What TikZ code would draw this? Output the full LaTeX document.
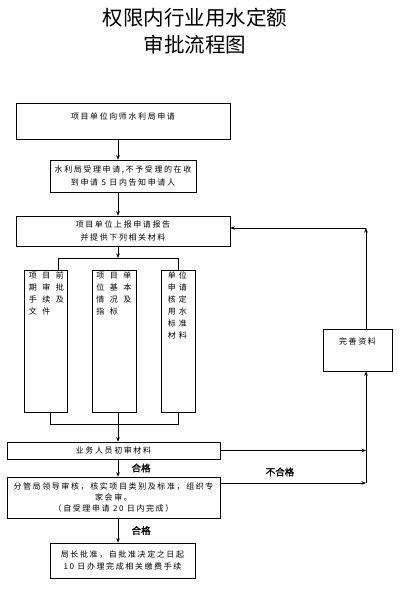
\documentclass[tikz,border=0pt]{standalone}
\usepackage{fontspec}
\setmainfont{Noto Sans CJK SC}
\newfontfamily\cjkbody[LetterSpace=20]{Noto Sans CJK SC}
\newfontfamily\cjkgrid[LetterSpace=69]{Noto Sans CJK SC}
\newfontfamily\cjknarrow[LetterSpace=37]{Noto Sans CJK SC}
\newfontfamily\cjkbold[FakeBold=1.5]{Noto Sans CJK SC}
\usetikzlibrary{positioning, arrows.meta}

\begin{document}
\begin{tikzpicture}[
    x=1pt, y=-1pt,
    box/.style={draw, line width=0.6pt, inner sep=0pt, align=center, font=\cjkbody\fontsize{8}{12.5}\selectfont},
    doc/.style={draw, line width=0.6pt, minimum height=142pt, inner sep=0pt},
    doctxt/.style={inner sep=0pt, align=left, anchor=north west},
    arrow/.style={-{Stealth[length=4.5pt, width=3.5pt]}, line width=0.6pt},
    wire/.style={line width=0.6pt},
    pass/.style={font=\cjkbold\fontsize{9.5}{10}\selectfont},
]
\useasboundingbox (0,0) rectangle (400,592);

% Title
\node[font=\fontsize{20.5}{27}\selectfont, align=center] (title) at (195,31.5) {权限内行业用水定额\\审批流程图};

% Application stages
\node[box, minimum width=214pt, minimum height=36pt, text depth=9pt] (apply) at (123,121) {项目单位向师水利局申请};
\node[box, minimum width=146pt, minimum height=32pt] (accept) at (123,176) {水利局受理申请,不予受理的在收\\到申请 5 日内告知申请人};
\node[box, minimum width=214pt, minimum height=30pt] (report) at (123,231) {项目单位上报申请报告\\并提供下列相关材料};

% Materials
\node[doc, minimum width=43pt] (docA) at (45.5,341) {};
\node[doc, minimum width=44pt] (docB) at (114,341) {};
\node[doc, minimum width=34pt] (docC) at (178,341) {};
\node[doctxt, font=\cjkgrid\fontsize{8}{12}\selectfont] (docAtxt) at ([shift={(5,2)}]docA.north west) {项目前\\期审批\\手续及\\文件};
\node[doctxt, font=\cjkgrid\fontsize{8}{12}\selectfont] (docBtxt) at ([shift={(4.5,2)}]docB.north west) {项目单\\位基本\\情况及\\指标};
\node[doctxt, font=\cjknarrow\fontsize{8}{12}\selectfont] (docCtxt) at ([shift={(7,2)}]docC.north west) {单位\\申请\\核定\\用水\\标准\\材料};

% Review stages
\node[box, minimum width=213pt, minimum height=17pt] (check) at (113.5,450.5) {业务人员初审材料};
\node[box, minimum width=213pt, minimum height=41pt, font=\cjkbody\fontsize{8}{11}\selectfont] (review) at (113.5,497.5) {分管局领导审核，核实项目类别及标准，组织专\\家会审。\\（自受理申请 20 日内完成）};
\node[box, minimum width=145pt, minimum height=35pt] (approve) at (122.5,560.5) {局长批准，自批准决定之日起\\10 日办理完成相关缴费手续};
\node[box, minimum width=69pt, minimum height=42pt, text depth=17pt] (fix) at (357.5,350) {完善资料};

% Routing points
\coordinate (spine) at (118,0);
\coordinate (split) at (118,258);
\coordinate (splitL) at (58,258);
\coordinate (splitR) at (178,258);
\coordinate (joinL) at (50,424);
\coordinate (joinR) at (178,424);
\coordinate (rail) at (366,483);
\coordinate (back) at (366,228);

% Main flow
\draw[arrow] (apply.south -| spine) -- (accept.north -| spine);
\draw[arrow] (accept.south -| spine) -- (report.north -| spine);
\draw[arrow] (report.south -| spine) -- (split);
\draw[wire] (splitL |- docA.north) -- (splitL) -- (splitR) -- (docC.north);
\draw[wire] (docA.south -| joinL) -- (joinL) -- (joinR) -- (docC.south);
\draw[arrow] (docB.south -| spine) -- (check.north -| spine);
\draw[arrow] (check.south -| spine) -- node[pass, right=10pt] (pass1) {合格} (review.north -| spine);
\draw[arrow] (review.south -| spine) -- node[pass, right=10pt] (pass2) {合格} (approve.north -| spine);

% Rejection loop
\draw[arrow] (check.east) -- (check.east -| rail);
\draw[arrow] (review.east |- rail) -- (rail);
\node[pass] (fail) at (280,472) {不合格};
\draw[arrow] (rail) -- (fix.south -| rail);
\draw[arrow] (fix.north -| rail) -- (back);
\draw[arrow] (back) -- (report.east |- back);

\end{tikzpicture}
\end{document}
